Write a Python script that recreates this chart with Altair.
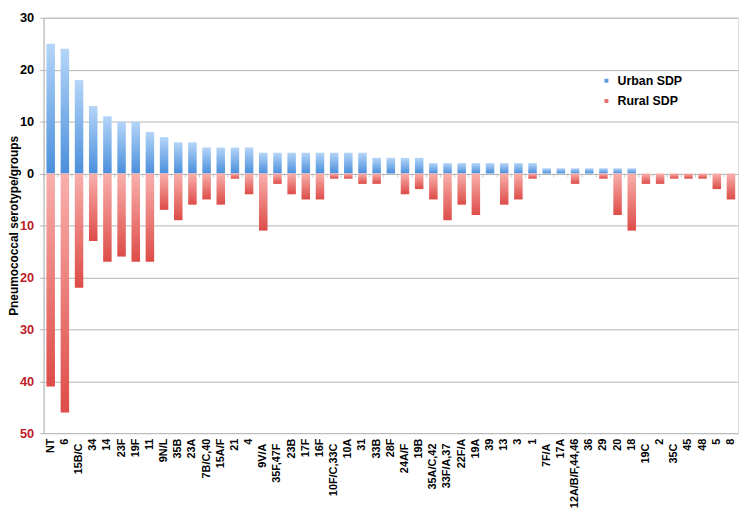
import json
import altair as alt
import pandas as pd

categories = ["NT", "6", "15B/C", "34", "14", "23F", "19F", "11", "9N/L", "35B",
              "23A", "7B/C,40", "15A/F", "21", "4", "9V/A", "35F,47F", "23B", "17F", "16F",
              "10F/C,33C", "10A", "31", "33B", "28F", "24A/F", "19B", "35A/C,42", "33F/A,37", "22F/A",
              "19A", "39", "13", "3", "1", "7F/A", "17A", "12A/B/F,44,46", "36", "29",
              "20", "18", "19C", "2", "35C", "45", "48", "5", "8"]
urban = [25, 24, 18, 13, 11, 10, 10, 8, 7, 6,
         6, 5, 5, 5, 5, 4, 4, 4, 4, 4,
         4, 4, 4, 3, 3, 3, 3, 2, 2, 2,
         2, 2, 2, 2, 2, 1, 1, 1, 1, 1,
         1, 1, 0, 0, 0, 0, 0, 0, 0]
rural = [41, 46, 22, 13, 17, 16, 17, 17, 7, 9,
         6, 5, 6, 1, 4, 11, 2, 4, 5, 5,
         1, 1, 2, 2, 0, 4, 3, 5, 9, 6,
         8, 0, 6, 5, 1, 0, 0, 2, 0, 1,
         8, 11, 2, 2, 1, 1, 1, 3, 5]
series_names = ["Urban SDP", "Rural SDP"]
shifted_labels = ["15B/C", "9V/A", "35F,47F", "10F/C,33C", "24A/F", "35A/C,42",
                  "33F/A,37", "7F/A", "19C", "35C"]
y_ticks = [-50, -40, -30, -20, -10, 0, 10, 20, 30]

df = pd.DataFrame({"cat": categories, "urban": urban, "rural": rural})
legend_df = pd.DataFrame({"series": series_names})

FONT = "Liberation Sans"
GRID = "#b5b5b5"
RED_TXT = "#c0202a"
W = 702
STEP = W / len(categories)

blue_grad = alt.Gradient(
    gradient="linear",
    stops=[alt.GradientStop(color="#b5d5f8", offset=0),
           alt.GradientStop(color="#4a8fdc", offset=1)],
    x1=0, x2=0, y1=0, y2=1)
red_grad = alt.Gradient(
    gradient="linear",
    stops=[alt.GradientStop(color="#f9b0ac", offset=0),
           alt.GradientStop(color="#dd4c48", offset=1)],
    x1=0, x2=0, y1=0, y2=1)

x_scale = alt.Scale(domain=categories, paddingInner=0.4, paddingOuter=0.2)
y_scale = alt.Scale(domain=[-50, 30], nice=False)

x_axis = alt.Axis(
    title=None, labelAngle=270, labelFont=FONT, labelFontSize=11,
    labelFontWeight="bold", labelColor="black", domain=False, ticks=False,
    grid=False, labelOverlap=False,
    labelPadding={"condition": {"test": "indexof(" + json.dumps(shifted_labels) + ", datum.value) >= 0",
                                "value": 10},
                  "value": 5})
y_axis = alt.Axis(
    title="Pneumococcal serotype/groups", titleFont=FONT, titleFontSize=12,
    titleFontWeight="bold", titleColor="black", titleX=-23,
    values=y_ticks, labelExpr="'' + abs(datum.value)",
    labelFont=FONT, labelFontSize=13, labelFontWeight="bold",
    labelColor={"condition": {"test": "datum.value < 0", "value": RED_TXT}, "value": "black"},
    labelPadding=6, tickSize=4, tickColor=GRID, domainColor=GRID,
    grid=True, gridColor=GRID, gridWidth=1)

urban_bars = alt.Chart(df).mark_bar(fill=blue_grad).encode(
    x=alt.X("cat:N", sort=categories, scale=x_scale, axis=x_axis),
    y=alt.Y("urban:Q", scale=y_scale, axis=y_axis),
)

rural_bars = alt.Chart(df).transform_calculate(rneg="-datum.rural").mark_bar(fill=red_grad).encode(
    x=alt.X("cat:N", sort=categories, scale=x_scale, axis=x_axis),
    y=alt.Y("rneg:Q", scale=y_scale, axis=y_axis),
)

zero_ticks = alt.Chart(df).mark_tick(orient="vertical", size=4, thickness=1,
                                     color=GRID, yOffset=2, xOffset=-STEP * 0.2).encode(
    x=alt.X("cat:N", sort=categories, scale=x_scale, axis=x_axis, bandPosition=0),
    y=alt.Y(datum=0, scale=y_scale, axis=y_axis),
)

legend_layer = alt.Chart(legend_df).mark_square(opacity=0).encode(
    color=alt.Color("series:N",
                    scale=alt.Scale(domain=series_names, range=["#5e9de2", "#e8706c"]),
                    legend=alt.Legend(
                        title=None, orient="none", legendX=562.7, legendY=57.5,
                        symbolType="square", symbolSize=16, symbolOpacity=1,
                        symbolStrokeWidth=0,
                        labelFont=FONT, labelFontSize=12.5, labelFontWeight="bold",
                        labelColor="black", labelOffset=5, rowPadding=7.5, padding=0)),
)

chart = alt.layer(urban_bars, rural_bars, zero_ticks, legend_layer).properties(
    width=W, height=420,
    autosize=alt.AutoSizeParams(type="none"),
    padding={"left": 36, "top": 7, "right": 4, "bottom": 85},
).configure_view(strokeWidth=0).configure(background="white")

chart.save("out.html", embed_options={"renderer": "svg", "actions": False})
